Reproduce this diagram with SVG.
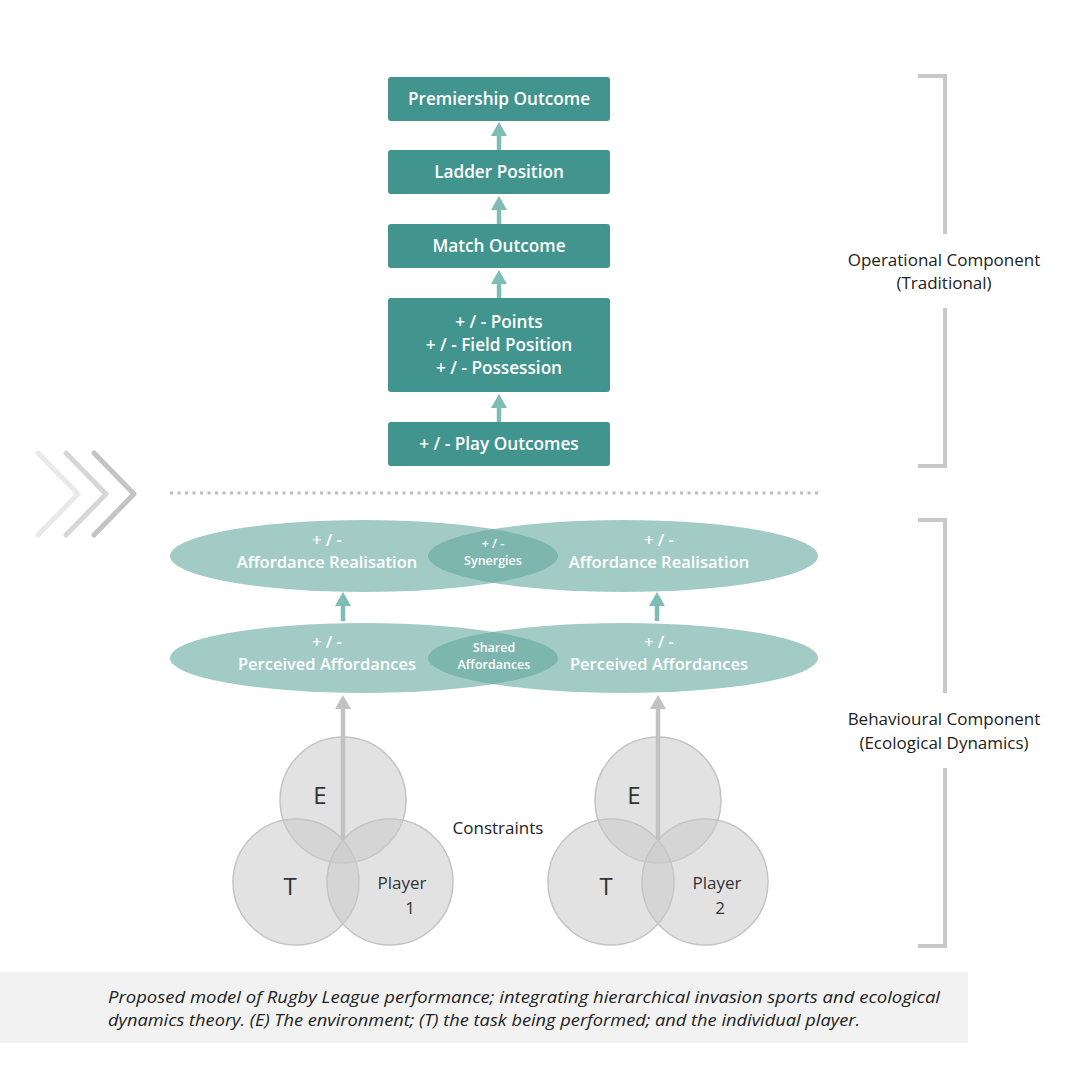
<svg xmlns="http://www.w3.org/2000/svg" width="1080" height="1080" viewBox="0 0 1080 1080">
<style>
.box{fill:#42948f}
.bt{font-family:"Open Sans","Liberation Sans",sans-serif;font-weight:600;font-size:17.2px;fill:#fff;text-anchor:middle}
.et{font-family:"Open Sans","Liberation Sans",sans-serif;font-weight:600;font-size:16.5px;fill:#fff;text-anchor:middle}
.lt{font-family:"Open Sans","Liberation Sans",sans-serif;font-weight:600;font-size:12.5px;fill:#fff;text-anchor:middle}
.ell{fill:#64a9a0;fill-opacity:0.6}
.cir{fill:#cacaca;fill-opacity:0.55;stroke:#c4c4c4;stroke-width:1.5}
.ct{font-family:"Open Sans","Liberation Sans",sans-serif;fill:#333;text-anchor:middle}
.lab{font-family:"Open Sans","Liberation Sans",sans-serif;font-size:17px;fill:#222;text-anchor:middle}
.brk{fill:none;stroke:#c8c8c8;stroke-width:4}
.ta{stroke:#7dbdb6;stroke-width:4.5;fill:none}
.ga{stroke:#c2c2c2;stroke-width:4.5;fill:none}
.cap{font-family:"Open Sans","Liberation Sans",sans-serif;font-style:italic;font-size:16px;fill:#222}
</style>
<defs>
<marker id="th" viewBox="0 0 14 16" refX="8" refY="8" markerWidth="14" markerHeight="16" orient="auto" markerUnits="userSpaceOnUse">
<path d="M0,0 L14,8 L0,16 z" fill="#7dbdb6"/>
</marker>
<marker id="gh" viewBox="0 0 14 16" refX="8" refY="8" markerWidth="14" markerHeight="16" orient="auto" markerUnits="userSpaceOnUse">
<path d="M0,0 L14,8 L0,16 z" fill="#c2c2c2"/>
</marker>
</defs>
<rect width="1080" height="1080" fill="#fff"/>

<g id="chevrons" fill="none" stroke-width="5" stroke-linecap="round" stroke-linejoin="round">
<polyline points="38,453 78,494 38,535" stroke="#e9e9e9"/>
<polyline points="66,453 106,494 66,535" stroke="#d7d7d7"/>
<polyline points="94,453 134,494 94,535" stroke="#c4c4c4"/>
</g>
<line id="divider" x1="170" y1="493" x2="818" y2="493" stroke="#bdbdbd" stroke-width="3" stroke-dasharray="3 4.5"/>

<g id="connectors">
<line class="ta" x1="499" y1="150" x2="499" y2="128" marker-end="url(#th)"/>
<line class="ta" x1="499" y1="224" x2="499" y2="202" marker-end="url(#th)"/>
<line class="ta" x1="499" y1="298" x2="499" y2="276" marker-end="url(#th)"/>
<line class="ta" x1="499" y1="422" x2="499" y2="400" marker-end="url(#th)"/>
<line class="ta" x1="343" y1="621" x2="343" y2="598" marker-end="url(#th)"/>
<line class="ta" x1="657" y1="621" x2="657" y2="598" marker-end="url(#th)"/>
</g>

<g id="n-premiership"><rect class="box" x="388" y="77" width="222" height="44" rx="3"/><text class="bt" x="499" y="105">Premiership Outcome</text></g>
<g id="n-ladder"><rect class="box" x="388" y="150" width="222" height="44" rx="3"/><text class="bt" x="499" y="178">Ladder Position</text></g>
<g id="n-match"><rect class="box" x="388" y="224" width="222" height="44" rx="3"/><text class="bt" x="499" y="252">Match Outcome</text></g>
<g id="n-points"><rect class="box" x="388" y="298" width="222" height="94" rx="3"/>
<text class="bt" x="499" y="328">+ / - Points</text>
<text class="bt" x="499" y="351">+ / - Field Position</text>
<text class="bt" x="499" y="374">+ / - Possession</text></g>
<g id="n-play"><rect class="box" x="388" y="422" width="222" height="44" rx="3"/><text class="bt" x="499" y="450">+ / - Play Outcomes</text></g>

<g id="n-realisation">
<ellipse class="ell" cx="364" cy="556" rx="194" ry="36"/>
<ellipse class="ell" cx="623" cy="556" rx="195" ry="36"/>
<text class="et" x="327" y="546">+ / -</text>
<text class="et" x="327" y="568">Affordance Realisation</text>
<text class="et" x="659" y="546">+ / -</text>
<text class="et" x="659" y="568">Affordance Realisation</text>
<text class="lt" x="493" y="548" font-size="11.5">+ / -</text>
<text class="lt" x="493" y="565" font-size="13">Synergies</text>
</g>
<g id="n-perceived">
<ellipse class="ell" cx="364" cy="658" rx="194" ry="35"/>
<ellipse class="ell" cx="623" cy="658" rx="195" ry="35"/>
<text class="et" x="327" y="648">+ / -</text>
<text class="et" x="327" y="670">Perceived Affordances</text>
<text class="et" x="659" y="648">+ / -</text>
<text class="et" x="659" y="670">Perceived Affordances</text>
<text class="lt" x="494" y="652">Shared</text>
<text class="lt" x="494" y="669">Affordances</text>
</g>

<g id="n-constraints1">
<circle class="cir" cx="343" cy="800" r="63"/>
<circle class="cir" cx="296" cy="882" r="63"/>
<circle class="cir" cx="390" cy="882" r="63"/>
<text class="ct" x="320" y="804" font-size="24">E</text>
<text class="ct" x="290" y="895" font-size="24">T</text>
<text class="ct" x="402" y="889" font-size="17">Player</text>
<text class="ct" x="410" y="914" font-size="17">1</text>
</g>
<g id="n-constraints2">
<circle class="cir" cx="658" cy="800" r="63"/>
<circle class="cir" cx="611" cy="882" r="63"/>
<circle class="cir" cx="705" cy="882" r="63"/>
<text class="ct" x="634" y="804" font-size="24">E</text>
<text class="ct" x="606" y="895" font-size="24">T</text>
<text class="ct" x="717" y="889" font-size="17">Player</text>
<text class="ct" x="720" y="914" font-size="17">2</text>
</g>
<g id="gray-connectors">
<line class="ga" x1="343" y1="840" x2="343" y2="701" marker-end="url(#gh)"/>
<line class="ga" x1="658" y1="840" x2="658" y2="701" marker-end="url(#gh)"/>
</g>
<text class="lab" x="498" y="834">Constraints</text>

<g id="operational">
<polyline class="brk" points="918,76 945,76 945,234"/>
<polyline class="brk" points="945,308 945,466 918,466"/>
<text class="lab" x="944" y="266">Operational Component</text>
<text class="lab" x="944" y="289">(Traditional)</text>
</g>
<g id="behavioural">
<polyline class="brk" points="918,520 945,520 945,693"/>
<polyline class="brk" points="945,768 945,946 918,946"/>
<text class="lab" x="944" y="725">Behavioural Component</text>
<text class="lab" x="944" y="749">(Ecological Dynamics)</text>
</g>

<g id="caption">
<rect x="0" y="972" width="968" height="71" fill="#f2f2f2"/>
<text class="cap" x="108" y="1003" textLength="832" lengthAdjust="spacingAndGlyphs">Proposed model of Rugby League performance; integrating hierarchical invasion sports and ecological</text>
<text class="cap" x="108" y="1026" textLength="752" lengthAdjust="spacingAndGlyphs">dynamics theory. (E) The environment; (T) the task being performed; and the individual player.</text>
</g>
</svg>
